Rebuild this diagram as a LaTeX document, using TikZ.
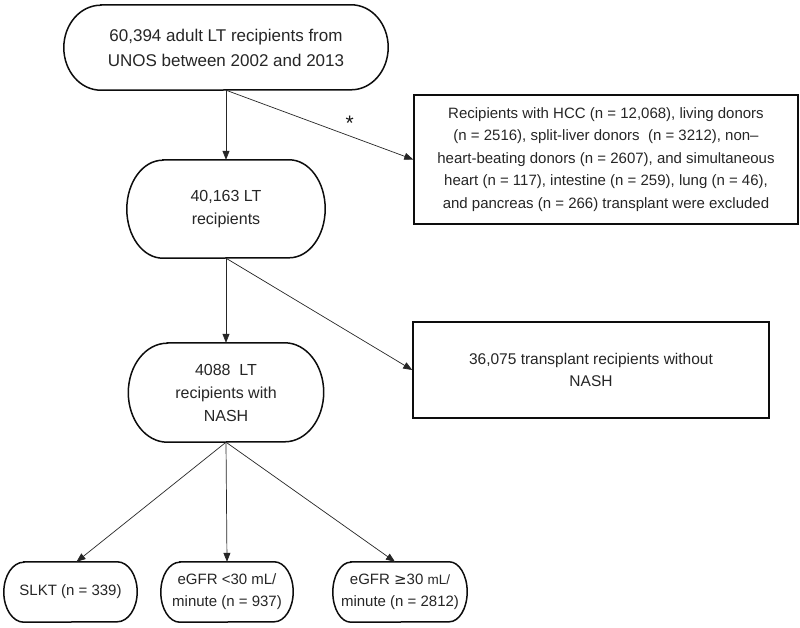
\documentclass[tikz,border=0pt]{standalone}
\usepackage{fontspec}
\setmainfont{Liberation Sans}
\newfontfamily\symfont{DejaVu Sans}
\usetikzlibrary{arrows.meta}
\tikzset{
  boxline/.style={line width=1.5pt, draw=black!95},
  txt/.style={inner sep=0pt, align=center, text=black!85},
  rectbox/.style={txt, draw=black!95, line width=1.5pt},
  conn/.style={line width=0.7pt, draw=black!85, -{Triangle[length=9pt,width=7pt]}},
}
\newcommand\stadiumshape[3]{%
  \draw[boxline] ([xshift=#2]#1.north west) -- ([xshift=-#2]#1.north east)
    arc[start angle=90,end angle=-90,x radius=#2,y radius=#3]
    -- ([xshift=#2]#1.south west)
    arc[start angle=270,end angle=90,x radius=#2,y radius=#3] -- cycle;}
\begin{document}
\begin{tikzpicture}[x=1pt,y=1pt]
\useasboundingbox (0,0) rectangle (800,627);
\fill[white] (0,0) rectangle (800,627);

% stadium-shaped nodes
\node[txt, minimum width=324pt, minimum height=85pt, font=\fontsize{17}{25}\selectfont] (top) at (226,579.5)
  {60,394 adult LT recipients from\\UNOS between 2002 and 2013};
\node[txt, minimum width=198pt, minimum height=98pt, font=\fontsize{16}{23}\selectfont] (n2) at (226,418)
  {40,163 LT\\recipients};
\node[txt, minimum width=195pt, minimum height=99pt, font=\fontsize{16}{23}\selectfont] (n3) at (226,234.5)
  {4088\ \ LT\\recipients with\\NASH};
\node[txt, minimum width=133pt, minimum height=60pt, font=\fontsize{15}{22}\selectfont] (b1) at (70.5,35)
  {SLKT (n = 339)};
\node[txt, minimum width=132pt, minimum height=60pt, font=\fontsize{15}{22}\selectfont] (b2) at (227,35)
  {eGFR <30 mL/\\minute (n = 937)};
\node[txt, minimum width=134pt, minimum height=60pt, font=\fontsize{15}{22}\selectfont] (b3) at (400,35)
  {eGFR {\symfont ≥}30 {\fontsize{13.5}{22}\selectfont mL/}\\minute (n = 2812)};

\stadiumshape{top}{37pt}{42.5pt}
\stadiumshape{n2}{36pt}{49pt}
\stadiumshape{n3}{39pt}{49.5pt}
\stadiumshape{b1}{20pt}{30pt}
\stadiumshape{b2}{19pt}{30pt}
\stadiumshape{b3}{18pt}{30pt}

% rectangular exclusion boxes
\node[rectbox, minimum width=384pt, minimum height=129pt, font=\fontsize{15}{22.5}\selectfont] (ex1) at (606,467.5)
  {Recipients with HCC (n = 12,068), living donors\\(n = 2516), split-liver donors\ \ (n = 3212), non–\\heart-beating donors (n = 2607), and simultaneous\\heart (n = 117), intestine (n = 259), lung (n = 46),\\and pancreas (n = 266) transplant were excluded};
\node[rectbox, minimum width=356pt, minimum height=96pt, font=\fontsize{15.5}{22.7}\selectfont] (ex2) at (591,257)
  {36,075 transplant recipients without\\NASH};

% connectors
\draw[conn] (top.south) -- node[pos=0.66, above=5pt, inner sep=0pt, font=\fontsize{21}{21}\selectfont, text=black!90] {*} (ex1.west);
\draw[conn] (top.south) -- (n2.north);
\draw[conn] (n2.south) -- (n3.north);
\draw[conn] (n2.south) -- (ex2.west);
\draw[conn] (n3.south) -- ([xshift=6pt]b1.north);
\draw[conn] (n3.south) -- (b2.north);
\draw[conn] (n3.south) -- ([xshift=-5pt]b3.north);
\end{tikzpicture}
\end{document}
